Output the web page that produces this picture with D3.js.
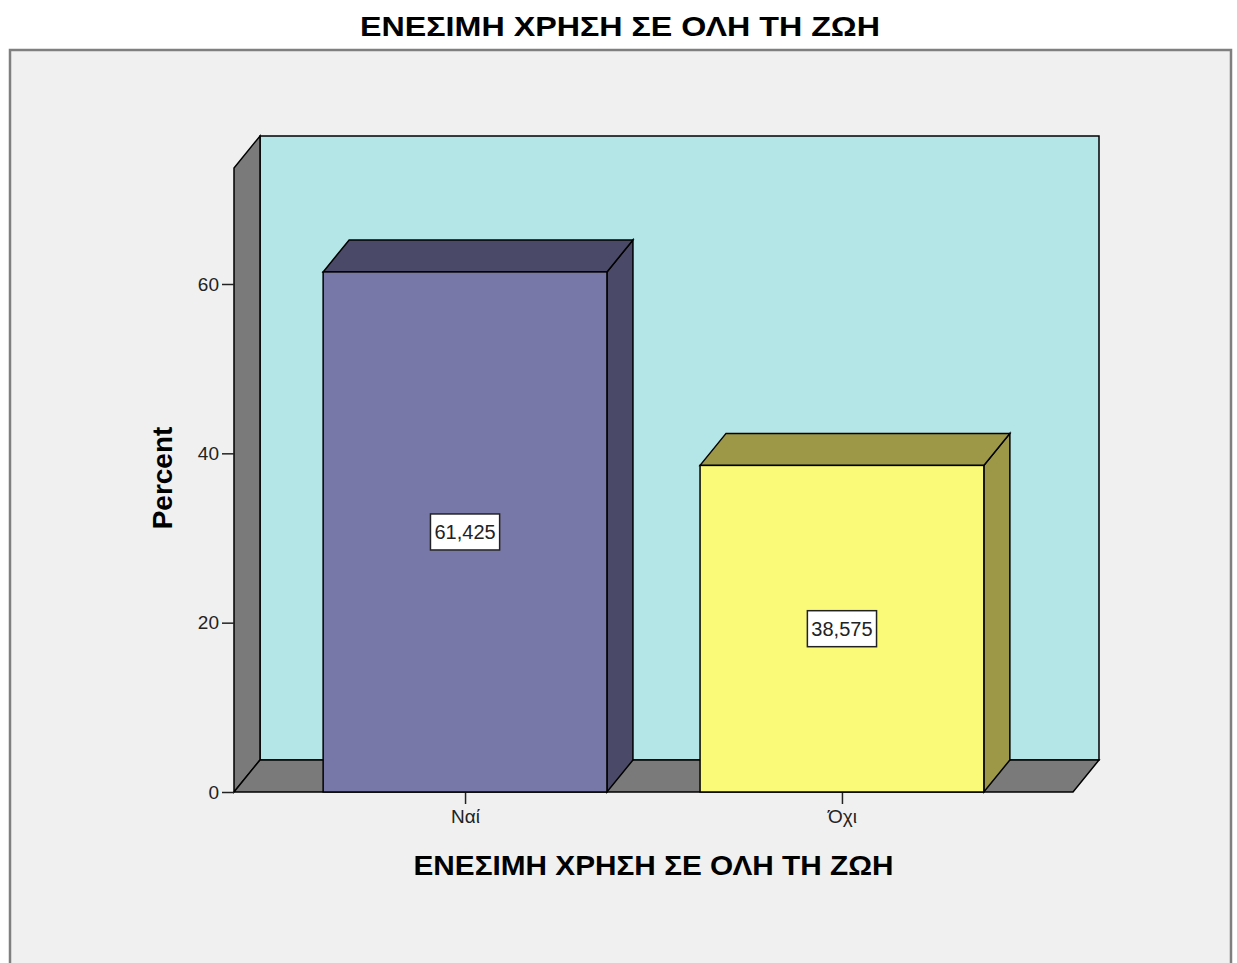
<!DOCTYPE html>
<html>
<head>
<meta charset="utf-8">
<script src="https://cdn.jsdelivr.net/npm/d3@7"></script>
<style>
  body { margin: 0; background: #ffffff; }
  text { font-family: "Liberation Sans", Arial, sans-serif; }
</style>
</head>
<body>
<div id="plot"></div>
<script>
var width = 1237;
var height = 963;

// data
var categories = ['Ναί', 'Όχι'];
var percents = [61.425, 38.575];
var valueLabels = ['61,425', '38,575'];
var yTicks = [0, 20, 40, 60];
var chartTitle = 'ΕΝΕΣΙΜΗ ΧΡΗΣΗ ΣΕ ΟΛΗ ΤΗ ΖΩΗ';
var xTitle = 'ΕΝΕΣΙΜΗ ΧΡΗΣΗ ΣΕ ΟΛΗ ΤΗ ΖΩΗ';
var yTitle = 'Percent';

var colors = ['#7878a8', '#fafa78'];
var darkColors = ['#4a4a68', '#9c9848'];

// 3d depth offset
var dx = 26, dy = -32;
var plotLeft = 234, plotRight = 1073, plotBottom = 792;

var canvas = d3.select('#plot')
    .append('svg')
    .attr('width', width)
    .attr('height', height);

var x_scale = d3.scalePoint()
    .domain(categories)
    .range([plotLeft, plotRight])
    .padding(0.613);

var y_scale = d3.scaleLinear()
    .domain([0, 73.7])
    .range([plotBottom, 168]);

var bar_width = x_scale.step() * 0.753;
var plotTop = y_scale(73.7);

// title
canvas.append('text')
    .attr('x', 620)
    .attr('y', 36)
    .attr('text-anchor', 'middle')
    .attr('font-size', 28)
    .attr('font-weight', 'bold')
    .attr('textLength', 520)
    .attr('lengthAdjust', 'spacingAndGlyphs')
    .attr('fill', '#000')
    .text(chartTitle);

// frame
canvas.append('rect')
    .attr('x', 10)
    .attr('y', 50)
    .attr('width', 1221)
    .attr('height', 930)
    .attr('fill', '#f0f0f0')
    .attr('stroke', '#7f7f7f')
    .attr('stroke-width', 2.5);

function pts(arr) { return arr.map(function(p) { return p.join(','); }).join(' '); }

// back wall
canvas.append('polygon')
    .attr('points', pts([[plotLeft + dx, plotBottom + dy], [plotLeft + dx, plotTop + dy], [plotRight + dx, plotTop + dy], [plotRight + dx, plotBottom + dy]]))
    .attr('fill', '#b4e6e8')
    .attr('stroke', '#000')
    .attr('stroke-width', 1.5);

// left wall
canvas.append('polygon')
    .attr('points', pts([[plotLeft, plotBottom], [plotLeft, plotTop], [plotLeft + dx, plotTop + dy], [plotLeft + dx, plotBottom + dy]]))
    .attr('fill', '#7a7a7a')
    .attr('stroke', '#000')
    .attr('stroke-width', 1.5);

// floor
canvas.append('polygon')
    .attr('points', pts([[plotLeft, plotBottom], [plotLeft + dx, plotBottom + dy], [plotRight + dx, plotBottom + dy], [plotRight, plotBottom]]))
    .attr('fill', '#7a7a7a')
    .attr('stroke', '#000')
    .attr('stroke-width', 1.5);

// y axis
var y_axis = d3.axisLeft(y_scale)
    .tickValues(yTicks)
    .tickSize(12)
    .tickPadding(3);

var gy = canvas.append('g')
    .attr('transform', 'translate(' + plotLeft + ',0)')
    .call(y_axis);
gy.select('.domain').remove();
gy.selectAll('text').attr('font-size', 19).attr('fill', '#222').attr('font-family', '"Liberation Sans", Arial, sans-serif');
gy.selectAll('line').attr('stroke', '#222').attr('stroke-width', 1.5);

// x axis
var x_axis = d3.axisBottom(x_scale)
    .tickSize(12)
    .tickPadding(6);

var gx = canvas.append('g')
    .attr('transform', 'translate(0,' + plotBottom + ')')
    .call(x_axis);
gx.select('.domain').remove();
gx.selectAll('text').attr('font-size', 19).attr('fill', '#222').attr('font-family', '"Liberation Sans", Arial, sans-serif');
gx.selectAll('line').attr('stroke', '#222').attr('stroke-width', 1.5);

// bars
var bars = canvas.selectAll('g.bar')
    .data(categories)
    .enter()
    .append('g')
    .attr('class', 'bar');

bars.each(function(d, i) {
    var g = d3.select(this);
    var x0 = x_scale(d) - bar_width / 2;
    var x1 = x_scale(d) + bar_width / 2;
    var yt = y_scale(percents[i]);

    // side
    g.append('polygon')
        .attr('points', pts([[x1, plotBottom], [x1, yt], [x1 + dx, yt + dy], [x1 + dx, plotBottom + dy]]))
        .attr('fill', darkColors[i])
        .attr('stroke', '#000')
        .attr('stroke-width', 1.5);
    // top
    g.append('polygon')
        .attr('points', pts([[x0, yt], [x0 + dx, yt + dy], [x1 + dx, yt + dy], [x1, yt]]))
        .attr('fill', darkColors[i])
        .attr('stroke', '#000')
        .attr('stroke-width', 1.5);
    // front
    g.append('rect')
        .attr('x', x0)
        .attr('y', yt)
        .attr('width', bar_width)
        .attr('height', plotBottom - yt)
        .attr('fill', colors[i])
        .attr('stroke', '#000')
        .attr('stroke-width', 1.5);

    // value label
    var cy = (yt + plotBottom) / 2;
    var lbl = g.append('text')
        .attr('x', x_scale(d))
        .attr('y', cy + 7)
        .attr('text-anchor', 'middle')
        .attr('font-size', 20)
        .attr('fill', '#222')
        .text(valueLabels[i]);
    var bb = lbl.node().getBBox();
    g.insert('rect', 'text')
        .attr('x', bb.x - 4)
        .attr('y', cy - 18)
        .attr('width', bb.width + 8)
        .attr('height', 36)
        .attr('fill', '#fff')
        .attr('stroke', '#222')
        .attr('stroke-width', 1.5);
});

// axis titles
canvas.append('text')
    .attr('x', (plotLeft + plotRight) / 2)
    .attr('y', 875)
    .attr('text-anchor', 'middle')
    .attr('font-size', 28)
    .attr('font-weight', 'bold')
    .attr('textLength', 480)
    .attr('lengthAdjust', 'spacingAndGlyphs')
    .attr('fill', '#000')
    .text(xTitle);

canvas.append('text')
    .attr('x', -478)
    .attr('y', 172)
    .attr('text-anchor', 'middle')
    .attr('font-size', 28)
    .attr('font-weight', 'bold')
    .attr('transform', 'rotate(-90)')
    .attr('fill', '#000')
    .text(yTitle);
</script>
</body>
</html>
